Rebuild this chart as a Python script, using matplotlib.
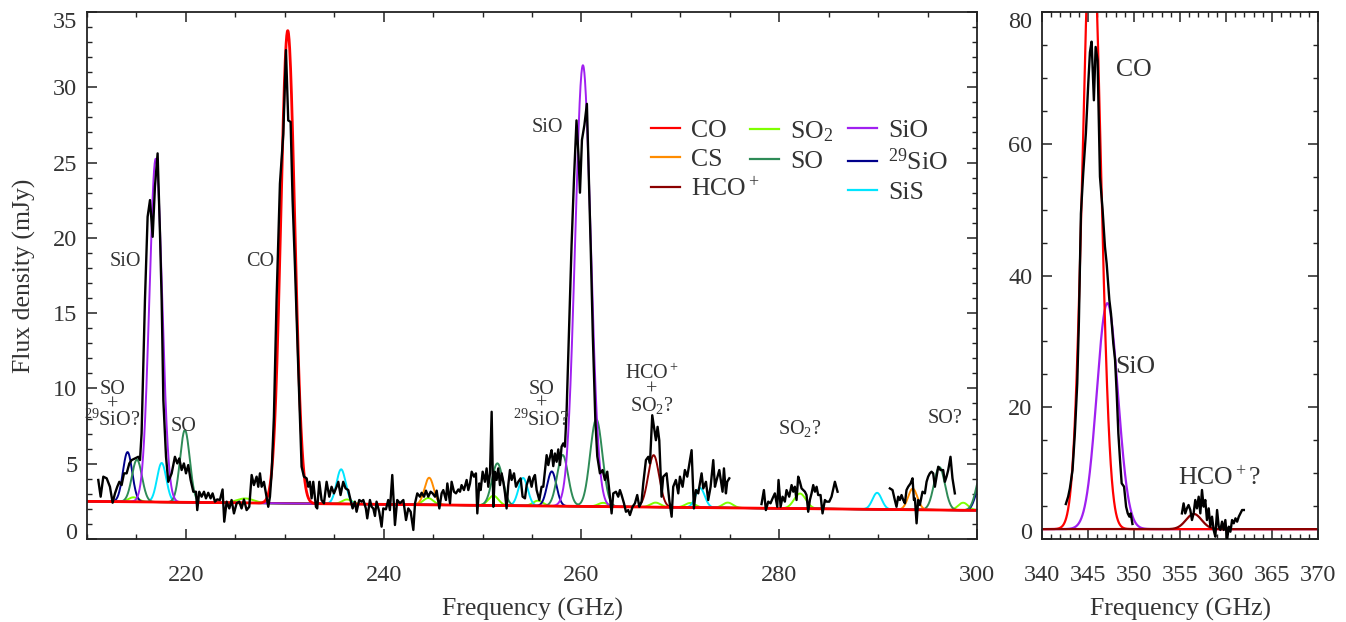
import numpy as np
import matplotlib.pyplot as plt
from matplotlib.lines import Line2D
from matplotlib.ticker import MultipleLocator

plt.rcParams['font.family'] = 'Liberation Serif'
plt.rcParams['mathtext.fontset'] = 'custom'
plt.rcParams['mathtext.rm'] = 'Liberation Serif'
plt.rcParams['mathtext.it'] = 'Liberation Serif:italic'
plt.rcParams['mathtext.bf'] = 'Liberation Serif:bold'

ink = '#333333'

# observed spectrum, left panel (three pieces with gaps between them)
freq_a = [211.14, 211.38, 211.65, 211.99, 212.32, 212.59, 212.83, 213.06, 213.27, 213.50,
          213.74, 214.01, 214.28, 214.51, 214.85, 215.19, 215.36, 215.52, 215.86, 216.13,
          216.37, 216.64, 216.87, 217.14, 217.38, 217.55, 217.72, 217.99, 218.22, 218.56,
          218.89, 219.13, 219.33, 219.57, 219.80, 220.01, 220.24, 220.48, 220.75, 221.02,
          221.15, 221.35, 221.59, 221.83, 222.03, 222.26, 222.50, 222.70, 222.94, 223.17,
          223.44, 223.71, 223.88, 224.12, 224.39, 224.62, 224.86, 225.13, 225.40, 225.63,
          225.87, 226.14, 226.41, 226.65, 226.88, 227.15, 227.32, 227.49, 227.66, 227.89,
          228.09, 228.33, 228.50, 228.67, 228.90, 229.17, 229.51, 229.85, 230.12, 230.35,
          230.59, 230.79, 231.03, 231.36, 231.70, 231.94, 232.21, 232.37, 232.54, 232.71,
          232.88, 233.15, 233.28, 233.49, 233.72, 233.96, 234.23, 234.50, 234.73, 234.97,
          235.24, 235.41, 235.64, 235.91, 236.15, 236.42, 236.65, 236.86, 237.09, 237.26,
          237.53, 237.77, 237.94, 238.20, 238.34, 238.61, 238.78, 238.95, 239.12, 239.28,
          239.55, 239.79, 239.96, 240.23, 240.46, 240.63, 240.87, 241.14, 241.37, 241.65,
          241.99, 242.26, 242.49, 242.73, 243.00, 243.17, 243.40, 243.67, 243.84, 244.08,
          244.28, 244.51, 244.75, 244.95, 245.19, 245.36, 245.63, 245.86, 246.03, 246.30,
          246.44, 246.71, 246.87, 247.11, 247.31, 247.55, 247.72, 247.88, 248.12, 248.39,
          248.56, 248.73, 248.90, 249.13, 249.33, 249.47, 249.67, 249.81, 250.01, 250.24,
          250.41, 250.58, 250.75, 250.92, 251.09, 251.25, 251.42, 251.59, 251.76, 251.93,
          252.10, 252.27, 252.43, 252.60, 252.77, 252.94, 253.18, 253.38, 253.61, 253.85,
          254.05, 254.29, 254.46, 254.73, 254.96, 255.13, 255.30, 255.47, 255.74, 255.97,
          256.14, 256.48, 256.65, 256.82, 256.98, 257.15, 257.32, 257.49, 257.66, 257.83,
          257.99, 258.16, 258.33, 258.50, 258.75, 259.00, 259.25, 259.50, 259.70, 259.85,
          260.05, 260.30, 260.55, 260.75, 260.95, 261.15, 261.40, 261.60, 261.87, 262.14,
          262.38, 262.61, 262.81, 263.05, 263.22, 263.49, 263.72, 263.89, 264.06, 264.30,
          264.50, 264.73, 264.90, 265.17, 265.41, 265.64, 265.85, 266.08, 266.25, 266.52,
          266.76, 266.93, 267.16, 267.33, 267.53, 267.70, 267.87, 268.10, 268.27, 268.61,
          268.88, 269.12, 269.28, 269.55, 269.79, 269.96, 270.23, 270.46, 270.70, 270.97,
          271.14, 271.37, 271.58, 271.81, 271.98, 272.15, 272.32, 272.59, 272.82, 273.06,
          273.33, 273.50, 273.67, 273.94, 274.27, 274.41, 274.61, 274.74, 274.95]
flux_a = [3.92, 2.81, 4.14, 4.03, 3.47, 2.41, 3.03, 3.47, 3.80, 3.58,
          4.36, 4.36, 5.02, 5.24, 5.35, 5.46, 5.24, 7.01, 15.87, 21.40,
          22.51, 20.07, 23.40, 25.61, 20.30, 15.87, 9.22, 5.46, 3.80, 4.36,
          5.46, 5.02, 5.35, 4.58, 5.02, 4.36, 4.91, 3.92, 3.14, 3.14,
          1.92, 3.14, 2.81, 3.14, 2.70, 3.07, 2.70, 3.03, 2.48, 2.63,
          2.59, 3.29, 1.15, 2.48, 2.03, 2.59, 1.70, 2.37, 2.48, 2.03,
          2.63, 1.92, 2.14, 4.25, 3.58, 4.14, 3.47, 4.36, 3.47, 3.80,
          3.03, 2.14, 2.81, 4.36, 8.11, 15.90, 23.60, 26.90, 32.47, 27.80,
          27.70, 22.50, 18.10, 11.43, 4.80, 4.14, 4.03, 3.47, 3.80, 2.70,
          3.80, 2.14, 2.03, 3.80, 2.59, 2.37, 3.80, 2.81, 3.47, 3.03,
          3.47, 3.80, 2.92, 3.80, 3.36, 3.25, 2.59, 2.03, 2.48, 1.81,
          2.59, 2.48, 2.59, 2.03, 1.37, 2.59, 2.14, 2.03, 1.53, 2.48,
          1.81, 0.82, 2.03, 1.97, 2.59, 1.92, 4.25, 0.93, 2.59, 2.37,
          2.59, 1.26, 2.03, 1.81, 0.60, 2.37, 3.03, 2.81, 3.07, 2.81,
          3.21, 2.81, 3.14, 3.03, 2.81, 3.21, 2.03, 3.03, 3.25, 2.59,
          3.69, 2.37, 3.80, 3.14, 3.03, 3.29, 3.14, 3.58, 3.25, 3.92,
          3.25, 3.69, 4.47, 4.14, 4.36, 1.70, 3.69, 3.25, 4.47, 3.80,
          4.69, 3.47, 4.36, 8.45, 2.14, 4.47, 3.92, 4.69, 3.58, 4.36,
          3.80, 3.03, 2.03, 3.58, 4.58, 3.92, 4.36, 3.47, 3.80, 4.03,
          2.81, 2.70, 3.58, 4.14, 3.47, 4.03, 4.25, 3.25, 2.59, 3.47,
          3.47, 5.57, 4.91, 5.46, 5.90, 4.84, 5.68, 5.13, 5.95, 4.91,
          6.13, 6.35, 6.13, 8.50, 14.00, 19.50, 24.00, 27.80, 25.50, 23.00,
          26.50, 27.50, 28.90, 24.00, 19.00, 13.50, 8.00, 5.50, 4.36, 4.58,
          3.92, 4.47, 3.25, 1.70, 3.03, 3.14, 2.81, 3.25, 2.92, 2.37,
          1.81, 1.92, 1.59, 2.14, 2.37, 2.92, 2.14, 2.48, 3.69, 5.24,
          5.46, 5.02, 8.22, 7.45, 6.56, 7.45, 6.56, 2.81, 4.14, 4.36,
          2.59, 1.48, 3.47, 3.92, 3.03, 4.14, 3.47, 4.58, 4.14, 5.24,
          5.90, 2.03, 3.25, 3.03, 3.69, 4.36, 3.36, 3.80, 2.59, 3.47,
          5.24, 3.47, 3.92, 4.58, 3.14, 4.69, 3.03, 3.80, 4.03]

freq_b = [278.21, 278.45, 278.65, 278.89, 279.12, 279.33, 279.56, 279.80, 279.93, 280.14,
          280.34, 280.57, 280.74, 281.01, 281.25, 281.42, 281.58, 281.75, 281.92, 282.09,
          282.26, 282.43, 282.60, 282.76, 282.93, 283.10, 283.27, 283.44, 283.61, 283.78,
          283.94, 284.18, 284.38, 284.62, 284.79, 285.06, 285.29, 285.63, 285.90]
flux_b = [2.32, 3.25, 1.92, 2.48, 2.37, 2.70, 3.03, 2.14, 3.92, 2.14,
          2.81, 2.48, 3.25, 2.81, 3.58, 3.14, 3.47, 2.59, 4.14, 3.80,
          3.36, 3.25, 3.14, 2.92, 1.81, 2.59, 3.03, 3.58, 3.14, 3.47,
          2.92, 2.92, 1.70, 2.59, 2.48, 2.48, 2.81, 3.80, 3.14]

freq_c = [291.19, 291.46, 291.69, 291.86, 292.03, 292.20, 292.37, 292.54, 292.71, 292.87,
          293.04, 293.28, 293.48, 293.62, 293.72, 293.89, 294.05, 294.22, 294.49, 294.73,
          294.90, 295.06, 295.23, 295.40, 295.57, 295.74, 295.91, 296.08, 296.31, 296.58,
          296.75, 296.92, 297.09, 297.32, 297.52, 297.76]
flux_c = [3.36, 3.25, 2.59, 2.14, 2.81, 2.59, 2.92, 2.59, 2.37, 3.25,
          3.47, 3.69, 4.03, 2.59, 2.70, 1.04, 2.59, 2.26, 3.14, 3.03,
          3.80, 4.14, 4.36, 4.47, 4.36, 3.47, 4.14, 4.80, 4.58, 4.58,
          3.80, 4.14, 4.58, 5.46, 4.03, 3.03]

# observed spectrum, right panel
freq_d = [342.59, 342.84, 343.03, 343.32, 343.57, 343.83, 344.01, 344.23, 344.48, 344.77,
          345.03, 345.21, 345.39, 345.64, 345.83, 346.04, 346.30, 346.59, 346.84, 347.03,
          347.32, 347.50, 347.75, 347.94, 348.12, 348.30, 348.48, 348.66, 348.92, 349.14,
          349.32, 349.50, 349.64, 349.83]
flux_d = [5.31, 6.42, 7.69, 10.47, 16.0, 23.6, 33.0, 49.4, 55.5, 61.6,
          69.2, 73.9, 75.5, 66.6, 74.7, 72.7, 55.0, 49.9, 44.4, 41.8,
          36.3, 34.2, 29.7, 27.2, 22.1, 16.0, 12.0, 8.45, 7.94, 4.91,
          3.89, 3.39, 3.89, 2.28]

freq_e = [355.21, 355.39, 355.57, 355.75, 355.93, 356.12, 356.30, 356.48, 356.66, 356.84,
          357.03, 357.21, 357.39, 357.57, 357.75, 357.93, 358.12, 358.30, 358.48, 358.66,
          358.84, 359.03, 359.21, 359.39, 359.57, 359.75, 359.93, 360.12, 360.30, 360.48,
          360.66, 360.84, 361.03, 361.21, 361.39, 361.75, 361.94]
flux_e = [3.89, 5.41, 3.89, 4.65, 5.16, 4.40, 2.88, 3.89, 5.92, 4.65,
          6.42, 3.89, 7.44, 4.91, 5.92, 2.88, 4.65, 1.87, 3.39, 1.37,
          0.35, 4.40, 1.87, 1.37, 2.63, 1.37, 2.88, -0.15, 1.87, 1.11,
          2.88, 2.38, 3.14, 2.63, 3.39, 4.40, 4.40]

# fitted line components: molecule, centre (GHz), peak above continuum (mJy), FWHM (GHz)
line_mol = ['CO', 'SiO', 'SiO',
            'SO', 'SO', 'SO', 'SO', 'SO', 'SO', 'SO',
            '29SiO', '29SiO', '29SiO',
            'SiS', 'SiS', 'SiS', 'SiS', 'SiS',
            'CS', 'CS', 'HCO+',
            'SO2', 'SO2', 'SO2', 'SO2', 'SO2', 'SO2', 'SO2', 'SO2', 'SO2', 'SO2', 'SO2', 'SO2']
line_nu = [230.3, 216.95, 260.15,
           215.05, 219.9, 251.5, 258.1, 261.5, 296.2, 300.5,
           214.1, 257.0, 300.3,
           217.55, 235.7, 254.1, 272.0, 289.9,
           244.6, 293.5, 267.3,
           214.7, 226.0, 236.3, 244.5, 251.1, 255.6, 262.2, 267.5, 271.0, 274.8, 282.1, 298.6]
line_peak = [31.4, 22.8, 29.3,
             2.8, 4.8, 2.8, 3.4, 5.8, 2.85, 2.6,
             3.3, 2.3, 1.6,
             2.6, 2.3, 1.85, 1.3, 1.1,
             1.8, 1.4, 3.45,
             0.3, 0.3, 0.3, 0.45, 0.65, 0.35, 0.25, 0.3, 0.3, 0.35, 1.0, 0.5]
line_fwhm = [1.65, 1.5, 1.85,
             1.2, 1.15, 1.3, 1.3, 1.45, 1.3, 1.3,
             1.1, 1.1, 1.1,
             1.1, 1.1, 1.1, 1.1, 1.1,
             1.1, 1.1, 1.3,
             1.2, 2.0, 1.2, 1.2, 1.2, 1.2, 1.2, 1.2, 1.2, 1.2, 1.4, 1.2]
cont_nu = [210, 300]
cont_flux = [2.5, 1.9]

right_mol = ['CO', 'SiO', 'HCO+']
right_nu = [345.4, 347.1, 356.5]
right_peak = [94.0, 34.3, 2.3]
right_fwhm = [2.3, 2.7, 2.0]
right_cont = 1.5

colours = {'CO': '#ff0000', 'CS': '#ff8c00', 'HCO+': '#8b0000',
           'SO2': '#7fff00', 'SO': '#2e8b57',
           'SiO': '#a020f0', '29SiO': '#00008b', 'SiS': '#00e5ff'}
labels = {'CO': 'CO', 'CS': 'CS', 'HCO+': 'HCO$^+$', 'SO2': 'SO$_2$', 'SO': 'SO',
          'SiO': 'SiO', '29SiO': '$^{29}$SiO', 'SiS': 'SiS'}


def model(nu, base, mols, centres, peaks, widths, which):
    y = base.copy()
    for m, c, p, w in zip(mols, centres, peaks, widths):
        if m == which:
            s = w / 2.3548
            y = y + p * np.exp(-0.5 * ((nu - c) / s) ** 2)
    return y


fig = plt.figure(figsize=(13.46, 6.22), dpi=100)
ax1 = fig.add_axes([87 / 1346, 1 - 539 / 622, 890 / 1346, 527 / 622])
ax2 = fig.add_axes([1042 / 1346, 1 - 539 / 622, 276 / 1346, 527 / 622])

# left panel
nu1 = np.linspace(210, 300, 3000)
base1 = np.interp(nu1, cont_nu, cont_flux)
for mol in ['SO2', 'SiS', '29SiO', 'SO', 'CS', 'HCO+', 'SiO', 'CO']:
    ax1.plot(nu1, model(nu1, base1, line_mol, line_nu, line_peak, line_fwhm, mol),
             color=colours[mol], lw=2.0 if mol == 'CO' else 1.4, zorder=2)
for f, s in [(freq_a, flux_a), (freq_b, flux_b), (freq_c, flux_c)]:
    ax1.plot(f, s, color='black', lw=1.7, zorder=3)

# right panel
nu2 = np.linspace(340, 370, 2000)
base2 = np.full_like(nu2, right_cont)
for mol in ['SiO', 'CO', 'HCO+']:
    ax2.plot(nu2, model(nu2, base2, right_mol, right_nu, right_peak, right_fwhm, mol),
             color=colours[mol], lw=1.6, zorder=2)
for f, s in [(freq_d, flux_d), (freq_e, flux_e)]:
    ax2.plot(f, s, color='black', lw=1.7, zorder=3)

ax1.set_xlim(210, 300)
ax1.set_ylim(0, 35)
ax1.set_xticks([220, 240, 260, 280, 300])
ax1.set_yticks(range(0, 36, 5))
ax1.xaxis.set_minor_locator(MultipleLocator(5))
ax1.yaxis.set_minor_locator(MultipleLocator(1))

ax2.set_xlim(340, 370)
ax2.set_ylim(0, 80)
ax2.set_xticks(range(340, 371, 5))
ax2.set_yticks(range(0, 81, 20))
ax2.xaxis.set_minor_locator(MultipleLocator(1))
ax2.yaxis.set_minor_locator(MultipleLocator(5))

for ax in (ax1, ax2):
    ax.tick_params(which='both', direction='in', top=True, right=True,
                   colors='#222222', labelcolor=ink, labelsize=17.5)
    ax.tick_params(which='major', length=7, width=1.1)
    ax.tick_params(which='minor', length=3.5, width=1.0)
    ax.tick_params(axis='x', pad=19)
    ax.tick_params(axis='y', pad=7)
    for sp in ax.spines.values():
        sp.set_linewidth(1.3)
        sp.set_color('#222222')
    ax.set_xlabel('Frequency (GHz)', fontsize=18.5, color=ink, labelpad=8)
    yl = ax.get_yticklabels()
    yl[0].set_va('baseline')
    yl[-1].set_va('top')

ax1.set_ylabel('Flux density (mJy)', fontsize=18.5, color=ink, labelpad=12)

# annotations, left panel
small = dict(fontsize=14.5, color=ink, ha='center', va='center')
stacked = dict(small, multialignment='center', linespacing=0.72)
ax1.text(213.9, 18.4, 'SiO', **small)
ax1.text(227.5, 18.4, 'CO', **small)
ax1.text(256.6, 27.3, 'SiO', **small)
ax1.text(212.55, 8.85, 'SO\n+\n$^{29}$SiO?', **stacked)
ax1.text(219.8, 7.45, 'SO', **small)
ax1.text(255.95, 8.9, 'SO\n+\n$^{29}$SiO?', **stacked)
ax1.text(267.15, 9.9, 'HCO$^+$\n+\nSO$_2$?', **stacked)
ax1.text(282.1, 7.35, 'SO$_2$?', **small)
ax1.text(296.75, 8.0, 'SO?', **small)

big = dict(fontsize=18.5, color=ink, ha='center', va='center')
ax2.text(350.0, 71.2, 'CO', **big)
ax2.text(350.1, 26.1, 'SiO', **big)
ax2.text(359.3, 9.2, 'HCO$^+$?', **big)

# legend in three separate columns
legend_cols = [(['CO', 'CS', 'HCO+'], 651), (['SO2', 'SO'], 750), (['SiO', '29SiO', 'SiS'], 848)]
for mols, xpix in legend_cols:
    handles = [Line2D([], [], color=colours[m], lw=1.6) for m in mols]
    fig.legend(handles, [labels[m] for m in mols], loc='upper left',
               bbox_to_anchor=(xpix / 1346, 1 - 119 / 622), bbox_transform=fig.transFigure,
               frameon=False, fontsize=18.5, handlelength=1.13, handletextpad=0.42,
               labelspacing=0.24, borderpad=0, borderaxespad=0, labelcolor=ink)

fig.savefig('out.png', dpi=100)
